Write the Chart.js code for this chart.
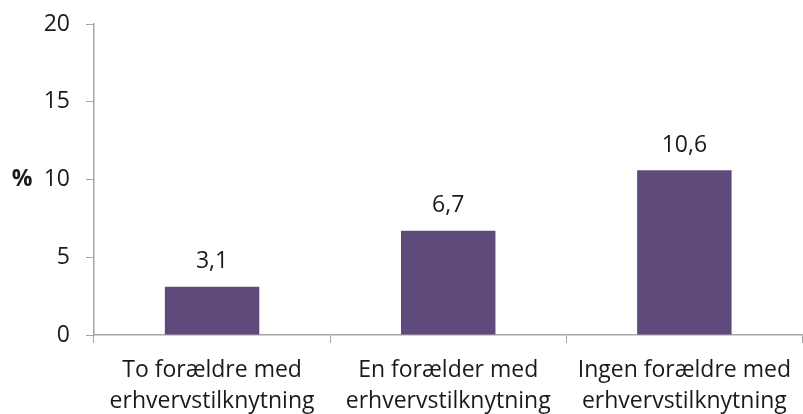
<!DOCTYPE html>
<html>
<head>
<meta charset="utf-8">
<script src="https://cdn.jsdelivr.net/npm/chart.js@4.4.1/dist/chart.umd.min.js"></script>
<style>
  html, body { margin: 0; padding: 0; background: #fff; }
  #wrap { width: 803px; height: 414px; }
</style>
</head>
<body>
<div id="wrap"><canvas id="graph_bars"></canvas></div>
<script>
const categories = [
    ['To forældre med', 'erhvervstilknytning'],
    ['En forælder med', 'erhvervstilknytning'],
    ['Ingen forældre med', 'erhvervstilknytning']
];
const values = [3.1, 6.7, 10.6];
const yTicks = [0, 5, 10, 15, 20];
const axisTitle = '%';

const fontFamily = "'Open Sans', 'Liberation Sans', sans-serif";
const axisColor = '#A6A6A6';
const textColor = '#1a1a1a';

// Valeurs au-dessus des barres + le "%" à gauche
const labelsPlugin = {
    id: 'labelsPlugin',
    afterDatasetsDraw(chart) {
        const c = chart.ctx;
        const meta = chart.getDatasetMeta(0);
        c.save();
        c.font = '23px ' + fontFamily;
        c.fillStyle = textColor;
        c.textAlign = 'center';
        c.textBaseline = 'middle';
        meta.data.forEach((bar, i) => {
            c.fillText(values[i].toFixed(1).replace('.', ','), bar.x, bar.y - 25);
        });
        const y = chart.scales.y;
        c.font = 'bold 23px ' + fontFamily;
        c.fillText(axisTitle, 22, y.getPixelForValue(10));
        c.restore();
    }
};

const ctx = document.getElementById('graph_bars').getContext('2d');

const graph = new Chart(ctx, {
    type: 'bar',
    data: {
        labels: categories,
        datasets: [{
            data: values,
            backgroundColor: '#5F4B7B',
            categoryPercentage: 1,
            barPercentage: 0.4
        }]
    },
    options: {
        responsive: true,
        maintainAspectRatio: false,
        animation: false,
        layout: { padding: { top: 24, right: 0, left: 0, bottom: 0 } },
        plugins: {
            legend: { display: false },
            tooltip: { enabled: false }
        },
        scales: {
            y: {
                min: 0,
                max: 20,
                afterBuildTicks(scale) {
                    scale.ticks = yTicks.map(v => ({ value: v }));
                },
                afterFit(scale) {
                    scale.width = 94;
                    scale.paddingTop = 0;
                    scale.paddingBottom = 0;
                },
                grid: {
                    drawOnChartArea: false,
                    drawTicks: true,
                    tickLength: 8,
                    color: axisColor
                },
                border: { color: axisColor, width: 1.5 },
                ticks: {
                    padding: 16,
                    color: textColor,
                    font: { family: fontFamily, size: 23 }
                }
            },
            x: {
                afterFit(scale) { scale.height = 79; },
                grid: {
                    offset: true,
                    drawOnChartArea: false,
                    drawTicks: true,
                    tickLength: 8,
                    color: axisColor
                },
                border: { color: axisColor, width: 1.5 },
                ticks: {
                    padding: 12,
                    color: textColor,
                    font: { family: fontFamily, size: 23, lineHeight: 1.35 }
                }
            }
        }
    },
    plugins: [labelsPlugin]
});
</script>
</body>
</html>
